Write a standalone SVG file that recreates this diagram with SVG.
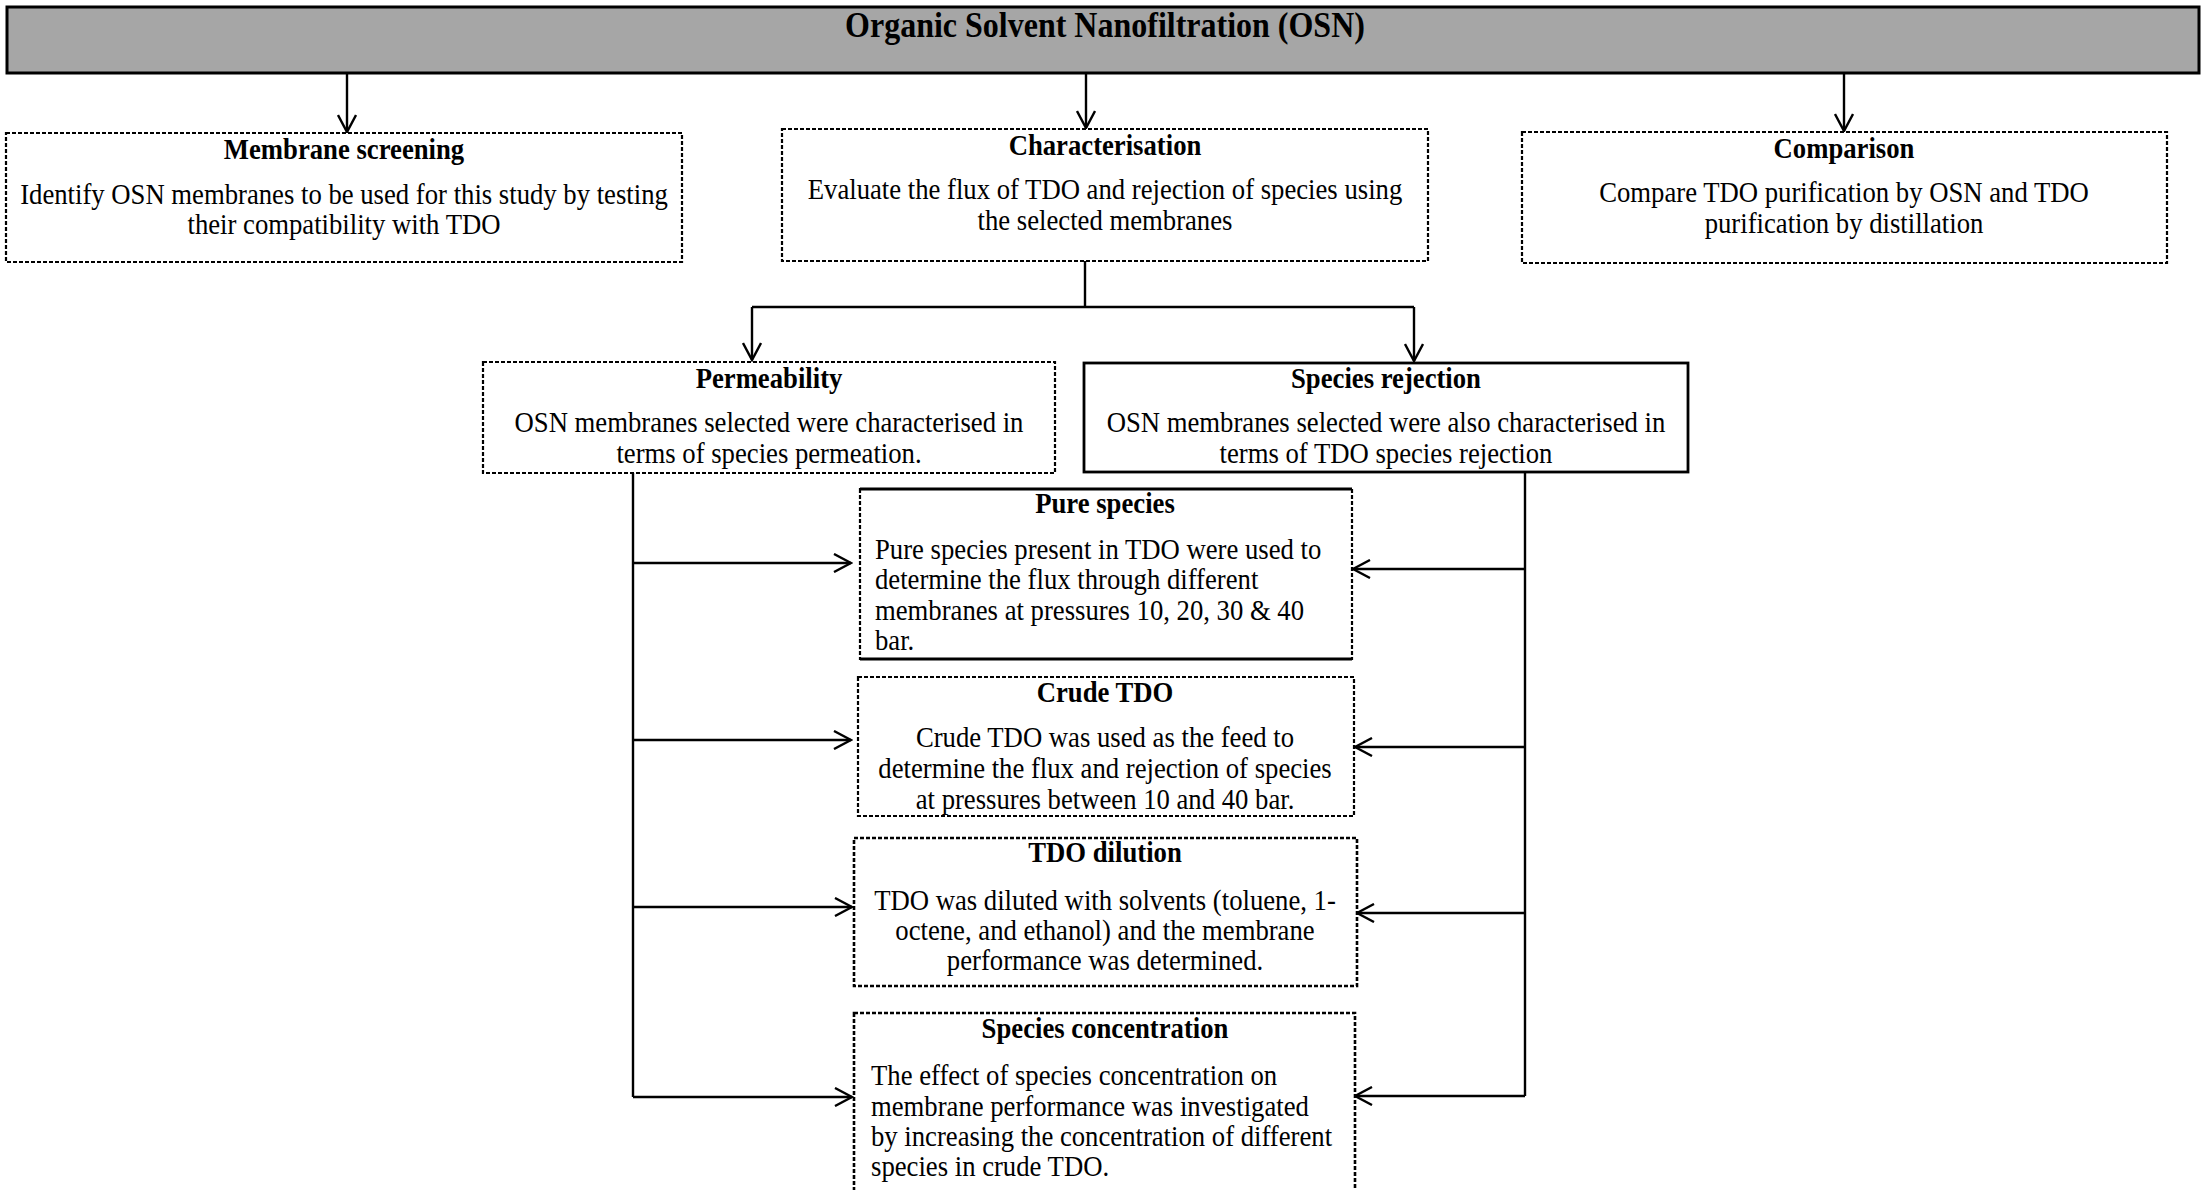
<svg xmlns="http://www.w3.org/2000/svg" width="2202" height="1190" viewBox="0 0 2202 1190">
<style>
.t{font-family:"Liberation Serif","Times New Roman",serif;font-size:26.7px;fill:#000}
.b{font-weight:bold}
.c{text-anchor:middle}
.box{fill:#fff;stroke:#000;stroke-width:2.2;stroke-dasharray:4 2}
.solid{fill:#fff;stroke:#000;stroke-width:2.8}
.ln{fill:none;stroke:#000;stroke-width:2.4}
</style>
<defs>
<marker id="ah" viewBox="0 0 20 20" refX="18" refY="10" markerWidth="20" markerHeight="20" markerUnits="userSpaceOnUse" orient="auto">
<path d="M1,1 L18,10 L1,19" fill="none" stroke="#000" stroke-width="2.4"/>
</marker>
</defs>
<rect width="2202" height="1190" fill="#fff"/>

<g id="osn">
<rect x="7" y="7" width="2192" height="66" fill="#a6a6a6" stroke="#000" stroke-width="3"/>
<text class="t b c" transform="translate(1105,37) scale(1,1.1)" style="font-size:32px">Organic Solvent Nanofiltration (OSN)</text>
</g>

<g id="connectors">
<path class="ln" d="M347,73 V132" marker-end="url(#ah)"/>
<path class="ln" d="M1086,73 V128" marker-end="url(#ah)"/>
<path class="ln" d="M1844,73 V131" marker-end="url(#ah)"/>
<path class="ln" d="M1085,261 V307 M752,307 H1414"/>
<path class="ln" d="M752,307 V360" marker-end="url(#ah)"/>
<path class="ln" d="M1414,307 V361" marker-end="url(#ah)"/>
<path class="ln" d="M633,473 V1097"/>
<path class="ln" d="M633,563 H851" marker-end="url(#ah)"/>
<path class="ln" d="M633,740 H851" marker-end="url(#ah)"/>
<path class="ln" d="M633,907 H852" marker-end="url(#ah)"/>
<path class="ln" d="M633,1097 H852" marker-end="url(#ah)"/>
<path class="ln" d="M1525,472 V1096"/>
<path class="ln" d="M1525,569 H1353" marker-end="url(#ah)"/>
<path class="ln" d="M1525,747 H1355" marker-end="url(#ah)"/>
<path class="ln" d="M1525,913 H1357" marker-end="url(#ah)"/>
<path class="ln" d="M1525,1096 H1355" marker-end="url(#ah)"/>
</g>

<g id="membrane-screening">
<rect class="box" x="6" y="133" width="676" height="129"/>
<text class="t b c" transform="translate(344,159) scale(1,1.1)">Membrane screening</text>
<text class="t c" transform="translate(344,204) scale(1,1.1)">Identify OSN membranes to be used for this study by testing</text>
<text class="t c" transform="translate(344,234) scale(1,1.1)">their compatibility with TDO</text>
</g>

<g id="characterisation">
<rect class="box" x="782" y="129" width="646" height="132"/>
<text class="t b c" transform="translate(1105,155) scale(1,1.1)">Characterisation</text>
<text class="t c" transform="translate(1105,199) scale(1,1.1)">Evaluate the flux of TDO and rejection of species using</text>
<text class="t c" transform="translate(1105,230) scale(1,1.1)">the selected membranes</text>
</g>

<g id="comparison">
<rect class="box" x="1522" y="132" width="645" height="131"/>
<text class="t b c" transform="translate(1844,158) scale(1,1.1)">Comparison</text>
<text class="t c" transform="translate(1844,202) scale(1,1.1)">Compare TDO purification by OSN and TDO</text>
<text class="t c" transform="translate(1844,233) scale(1,1.1)">purification by distillation</text>
</g>

<g id="permeability">
<rect class="box" x="483" y="362" width="572" height="111"/>
<text class="t b c" transform="translate(769,388) scale(1,1.1)">Permeability</text>
<text class="t c" transform="translate(769,432) scale(1,1.1)">OSN membranes selected were characterised in</text>
<text class="t c" transform="translate(769,463) scale(1,1.1)">terms of species permeation.</text>
</g>

<g id="species-rejection">
<rect class="solid" x="1084" y="363" width="604" height="109"/>
<text class="t b c" transform="translate(1386,388) scale(1,1.1)">Species rejection</text>
<text class="t c" transform="translate(1386,432) scale(1,1.1)">OSN membranes selected were also characterised in</text>
<text class="t c" transform="translate(1386,463) scale(1,1.1)">terms of TDO species rejection</text>
</g>

<g id="pure-species">
<rect class="box" x="860" y="489" width="492" height="170"/>
<path d="M860,489 H1352 M860,659 H1352" stroke="#000" stroke-width="2.8" fill="none"/>
<text class="t b c" transform="translate(1105,513) scale(1,1.1)">Pure species</text>
<text class="t" transform="translate(875,559) scale(1,1.1)">Pure species present in TDO were used to</text>
<text class="t" transform="translate(875,589) scale(1,1.1)">determine the flux through different</text>
<text class="t" transform="translate(875,620) scale(1,1.1)">membranes at pressures 10, 20, 30 &amp; 40</text>
<text class="t" transform="translate(875,650) scale(1,1.1)">bar.</text>
</g>

<g id="crude-tdo">
<rect class="box" x="858" y="677" width="496" height="139"/>
<text class="t b c" transform="translate(1105,702) scale(1,1.1)">Crude TDO</text>
<text class="t c" transform="translate(1105,747) scale(1,1.1)">Crude TDO was used as the feed to</text>
<text class="t c" transform="translate(1105,778) scale(1,1.1)">determine the flux and rejection of species</text>
<text class="t c" transform="translate(1105,809) scale(1,1.1)">at pressures between 10 and 40 bar.</text>
</g>

<g id="tdo-dilution">
<rect class="box" x="854" y="838" width="503" height="148" style="stroke-width:2.6"/>
<text class="t b c" transform="translate(1105,862) scale(1,1.1)">TDO dilution</text>
<text class="t c" transform="translate(1105,910) scale(1,1.1)">TDO was diluted with solvents (toluene, 1-</text>
<text class="t c" transform="translate(1105,940) scale(1,1.1)">octene, and ethanol) and the membrane</text>
<text class="t c" transform="translate(1105,970) scale(1,1.1)">performance was determined.</text>
</g>

<g id="species-concentration">
<rect class="box" x="854" y="1013" width="501" height="200" style="stroke-width:2.6"/>
<text class="t b c" transform="translate(1105,1038) scale(1,1.1)">Species concentration</text>
<text class="t" transform="translate(871,1085) scale(1,1.1)">The effect of species concentration on</text>
<text class="t" transform="translate(871,1116) scale(1,1.1)">membrane performance was investigated</text>
<text class="t" transform="translate(871,1146) scale(1,1.1)">by increasing the concentration of different</text>
<text class="t" transform="translate(871,1176) scale(1,1.1)">species in crude TDO.</text>
</g>
</svg>
